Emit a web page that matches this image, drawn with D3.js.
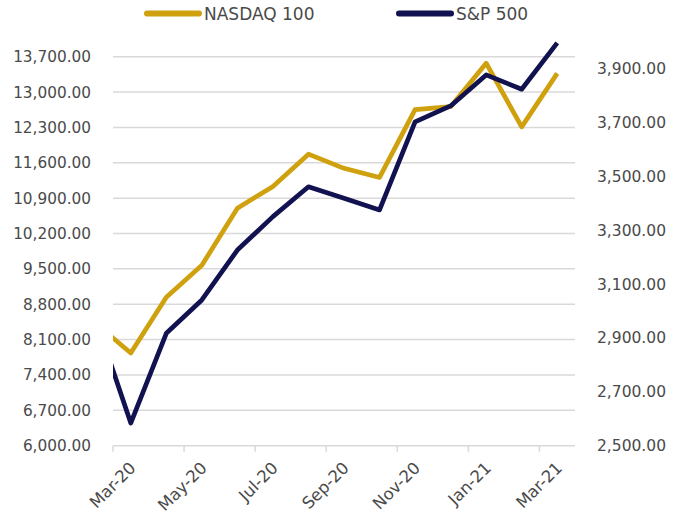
<!DOCTYPE html>
<html>
<head>
<meta charset="utf-8">
<script src="https://cdn.jsdelivr.net/npm/d3@7"></script>
<style>
  body { margin: 0; background: #fff; }
  text { font-family: "DejaVu Sans", sans-serif; fill: #4a4a4a; }
</style>
</head>
<body>
<script>
// months, Feb-20 sits just left of the plot and gets clipped
const months = ["Feb-20", "Mar-20", "Apr-20", "May-20", "Jun-20", "Jul-20", "Aug-20",
  "Sep-20", "Oct-20", "Nov-20", "Dec-20", "Jan-21", "Feb-21", "Mar-21"];
const nasdaq = [8430, 7835, 8940, 9570, 10700, 11130, 11770, 11490, 11310, 12650, 12710, 13570, 12310, 13370];
const sp500 = [2975, 2584, 2917, 3041, 3226, 3350, 3461, 3418, 3375, 3702, 3761, 3876, 3823, 3995];
const leftTicks = [6000, 6700, 7400, 8100, 8800, 9500, 10200, 10900, 11600, 12300, 13000, 13700];
const rightTicks = [2500, 2700, 2900, 3100, 3300, 3500, 3700, 3900];
const shownMonths = ["Mar-20", "May-20", "Jul-20", "Sep-20", "Nov-20", "Jan-21", "Mar-21"];

const w = 686, h = 518;
const plotL = 113, plotR = 575, plotT = 41.5, plotB = 445.7;
const gold = "#d0a10e", navy = "#11124f";

const svg = d3.select("body").append("svg").attr("width", w).attr("height", h);

const x = d3.scaleLinear().domain([0.5, months.length - 0.5]).range([plotL, plotR]);
const yL = d3.scaleLinear().domain([6000, 14000]).range([plotB, plotT]);
const yR = d3.scaleLinear().domain([2500, 4000]).range([plotB, plotT]);
const fmt = d3.format(",.2f");

// gridlines
svg.append("g")
  .selectAll("line")
  .data(leftTicks)
  .join("line")
  .attr("x1", plotL).attr("x2", plotR)
  .attr("y1", (d) => yL(d)).attr("y2", (d) => yL(d))
  .attr("stroke", "#d9d9d9")
  .attr("stroke-width", 1.5);

// left labels
svg.append("g")
  .selectAll("text")
  .data(leftTicks)
  .join("text")
  .attr("x", 91)
  .attr("y", (d) => yL(d))
  .attr("dy", "0.36em")
  .attr("text-anchor", "end")
  .style("font-size", "15.3px")
  .text((d) => fmt(d));

// right labels
svg.append("g")
  .selectAll("text")
  .data(rightTicks)
  .join("text")
  .attr("x", 597)
  .attr("y", (d) => yR(d))
  .attr("dy", "0.36em")
  .style("font-size", "15.5px")
  .text((d) => fmt(d));

// x ticks every two months, on category boundaries
const tickPos = d3.range(0.5, months.length - 1, 2);
svg.append("g")
  .selectAll("line")
  .data(tickPos)
  .join("line")
  .attr("x1", (d) => x(d)).attr("x2", (d) => x(d))
  .attr("y1", plotB).attr("y2", plotB + 6)
  .attr("stroke", "#d9d9d9")
  .attr("stroke-width", 1.5);

svg.append("g")
  .selectAll("text")
  .data(shownMonths)
  .join("text")
  .attr("text-anchor", "end")
  .attr("transform", (d) => `translate(${x(months.indexOf(d)) + 6},469) rotate(-45)`)
  .style("font-size", "16.5px")
  .text((d) => d);

// lines
svg.append("clipPath").attr("id", "plot")
  .append("rect")
  .attr("x", plotL).attr("y", 0)
  .attr("width", plotR - plotL).attr("height", h);

const plot = svg.append("g").attr("clip-path", "url(#plot)");

const lineL = d3.line().x((d, i) => x(i)).y((d) => yL(d));
const lineR = d3.line().x((d, i) => x(i)).y((d) => yR(d));

plot.append("path")
  .attr("d", lineL(nasdaq))
  .attr("fill", "none")
  .attr("stroke", gold)
  .attr("stroke-width", 4.7)
  .attr("stroke-linejoin", "round");

plot.append("path")
  .attr("d", lineR(sp500))
  .attr("fill", "none")
  .attr("stroke", navy)
  .attr("stroke-width", 4.7)
  .attr("stroke-linejoin", "round");

// legend
const legend = [
  { name: "NASDAQ 100", color: gold, x: 147 },
  { name: "S&P 500", color: navy, x: 399 },
];
const lg = svg.append("g")
  .selectAll("g")
  .data(legend)
  .join("g")
  .attr("transform", (d) => `translate(${d.x},13.5)`);

lg.append("line")
  .attr("x1", 0).attr("x2", 52)
  .attr("stroke", (d) => d.color)
  .attr("stroke-width", 6)
  .attr("stroke-linecap", "round");

lg.append("text")
  .attr("x", 57)
  .attr("dy", "0.36em")
  .style("font-size", "17px")
  .text((d) => d.name);
</script>
</body>
</html>
